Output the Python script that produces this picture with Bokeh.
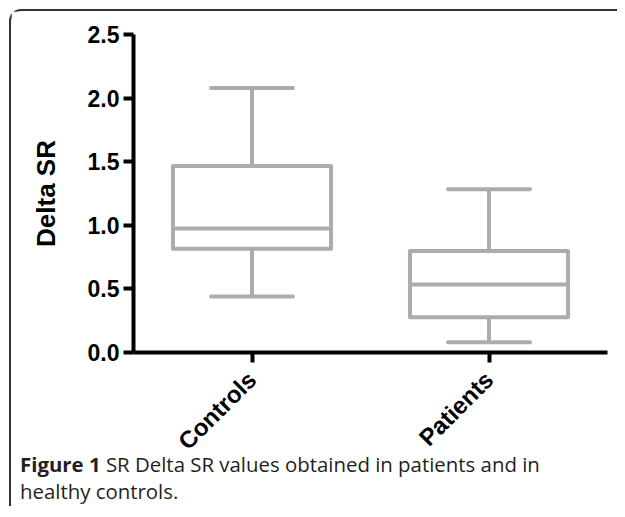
from bokeh.plotting import figure
from bokeh.models import Range1d, FactorRange, ColumnDataSource, NumeralTickFormatter, FixedTicker, Div
from bokeh.layouts import column
from bokeh.embed import file_html
from bokeh.resources import INLINE
import math

# ---- data ----
groups = ["Controls", "Patients"]
whisker_low = [0.44, 0.08]
q1 = [0.815, 0.278]
median = [0.975, 0.535]
q3 = [1.467, 0.797]
whisker_high = [2.08, 1.283]
y_ticks = [0.0, 0.5, 1.0, 1.5, 2.0, 2.5]

src = ColumnDataSource(dict(g=groups, lo=whisker_low, q1=q1, med=median, q3=q3, hi=whisker_high))

BOX = "#acacac"
p = figure(x_range=FactorRange(factors=groups, range_padding=0), y_range=Range1d(0, 2.5),
           width=606, height=456, output_backend="svg", toolbar_location=None,
           min_border_left=122, min_border_right=10, min_border_top=23, min_border_bottom=115)
p.outline_line_color = None
p.xgrid.visible = False
p.ygrid.visible = False

lw = 4
# stems
p.segment(x0="g", y0="q3", x1="g", y1="hi", source=src, line_color=BOX, line_width=lw)
p.segment(x0="g", y0="lo", x1="g", y1="q1", source=src, line_color=BOX, line_width=lw)
# box
p.vbar(x="g", bottom="q1", top="q3", width=0.667, source=src, fill_color="white",
       line_color=BOX, line_width=lw, line_join="round")
# median
p.vbar(x="g", bottom="med", top="med", width=0.667, source=src, fill_color=None,
       line_color=BOX, line_width=lw, line_join="round")
# caps
p.vbar(x="g", bottom="hi", top="hi", width=0.346, source=src, fill_color=None,
       line_color=BOX, line_width=lw, line_join="round")
p.vbar(x="g", bottom="lo", top="lo", width=0.346, source=src, fill_color=None,
       line_color=BOX, line_width=lw, line_join="round")

for ax in (p.xaxis[0], p.yaxis[0]):
    ax.axis_line_width = 4
    ax.axis_line_color = "black"
    ax.major_tick_line_width = 4
    ax.major_tick_line_color = "black"
    ax.major_tick_in = 0
    ax.minor_tick_line_color = None
    ax.major_label_text_font = "Liberation Sans"
    ax.major_label_text_font_style = "bold"
    ax.major_label_text_color = "black"

p.yaxis.ticker = FixedTicker(ticks=y_ticks)
p.yaxis.formatter = NumeralTickFormatter(format="0.0")
p.yaxis.major_tick_out = 10
p.yaxis.major_label_text_font_size = "23px"
p.yaxis.major_label_standoff = 4
p.yaxis.axis_label = "Delta SR"
p.yaxis.axis_label_text_font = "Liberation Sans"
p.yaxis.axis_label_text_font_style = "bold"
p.yaxis.axis_label_text_font_size = "26px"
p.yaxis.axis_label_text_color = "black"
p.yaxis.axis_label_standoff = 24

p.xaxis.major_tick_out = 10
p.xaxis.major_label_text_font_size = "24px"
p.xaxis.major_label_orientation = math.pi / 4
p.xaxis.major_label_standoff = 13

caption = Div(text='<span style="font-weight:bold">Figure 1</span> SR Delta SR values obtained in patients and in<br>healthy controls.',
              width=590, height=50,
              styles={"font-family": "'Open Sans'", "font-size": "20.4px", "line-height": "27px",
                      "color": "#231f20", "padding-left": "4px", "margin-top": "-16px"})

layout = column(p, caption, styles={"border-left": "2px solid #333", "border-top": "2px solid #333",
                                     "border-right": "0", "border-bottom": "0",
                                     "border-radius": "12px 0 0 0", "margin-left": "9px",
                                     "margin-top": "9px"})

open("out.html", "w").write(file_html(layout, INLINE))
